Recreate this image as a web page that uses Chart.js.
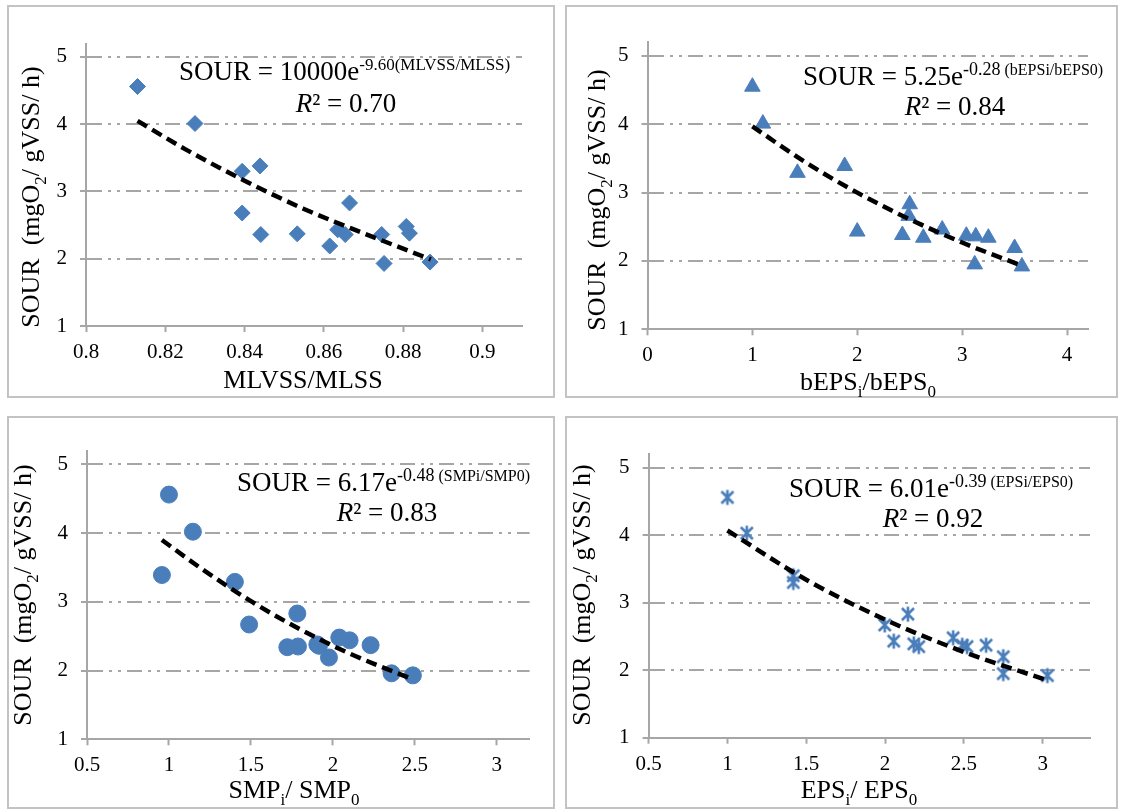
<!DOCTYPE html>
<html lang="en">
<head>
<meta charset="UTF-8">
<title>SOUR vs sludge ratios</title>
<style>
  body { margin: 0; width: 1121px; height: 810px; background: #fff; position: relative; overflow: hidden; }
  .panel { position: absolute; box-sizing: border-box; border: 2px solid #c3c3c3; }
  .panel canvas { position: absolute; left: -2px; top: -2px; }
</style>
</head>
<body>
<div class="panel" style="left:7px;top:5px;width:548px;height:393px"><canvas id="c1" width="548" height="393"></canvas></div>
<div class="panel" style="left:565px;top:5px;width:553px;height:393px"><canvas id="c2" width="553" height="393"></canvas></div>
<div class="panel" style="left:7px;top:416px;width:548px;height:393px"><canvas id="c3" width="548" height="393"></canvas></div>
<div class="panel" style="left:565px;top:416px;width:553px;height:393px"><canvas id="c4" width="553" height="393"></canvas></div>

<script src="https://cdn.jsdelivr.net/npm/chart.js"></script>
<script>
// --- data ---
const mlvssRatio = [0.813, 0.8275, 0.8394, 0.8439, 0.8394, 0.8441, 0.8533, 0.8615, 0.8635, 0.8654, 0.8665, 0.8746, 0.8752, 0.8808, 0.8816, 0.8868];
const sourMlvss  = [4.56, 4.01, 3.30, 3.38, 2.68, 2.36, 2.37, 2.19, 2.43, 2.36, 2.83, 2.36, 1.93, 2.48, 2.38, 1.95];
const mlvssFitX  = [0.813, 0.825, 0.84, 0.855, 0.87, 0.887];
const mlvssFitY  = [4.05, 3.63, 3.16, 2.74, 2.38, 1.99];

const bepsRatio  = [1.0, 1.1, 1.43, 1.88, 2.0, 2.43, 2.5, 2.49, 2.63, 2.81, 3.04, 3.13, 3.25, 3.12, 3.5, 3.57];
const sourBeps   = [4.55, 4.01, 3.29, 3.39, 2.43, 2.38, 2.83, 2.66, 2.34, 2.46, 2.37, 2.36, 2.34, 1.95, 2.19, 1.92];
const bepsFitX   = [1.0, 1.5, 2.0, 2.5, 3.0, 3.57];
const bepsFitY   = [3.97, 3.45, 3.0, 2.61, 2.27, 1.93];

const smpRatio   = [1.0, 1.146, 0.957, 1.402, 1.489, 1.783, 1.722, 1.787, 1.905, 1.915, 1.976, 2.039, 2.102, 2.23, 2.358, 2.488];
const sourSmp    = [4.56, 4.02, 3.39, 3.29, 2.67, 2.83, 2.34, 2.35, 2.38, 2.36, 2.19, 2.48, 2.44, 2.37, 1.96, 1.93];
const smpFitX    = [0.957, 1.2, 1.5, 1.8, 2.1, 2.489];
const smpFitY    = [3.90, 3.48, 3.01, 2.60, 2.25, 1.87];

const epsRatio   = [1.0, 1.123, 1.418, 1.418, 1.998, 2.055, 2.145, 2.182, 2.214, 2.432, 2.49, 2.52, 2.641, 2.75, 2.75, 3.03];
const sourEps    = [4.56, 4.03, 3.40, 3.30, 2.67, 2.43, 2.83, 2.39, 2.35, 2.48, 2.37, 2.35, 2.37, 2.20, 1.95, 1.92];
const epsFitX    = [1.0, 1.5, 2.0, 2.5, 3.03];
const epsFitY    = [4.07, 3.34, 2.75, 2.27, 1.85];

const sourTicks  = [1, 2, 3, 4, 5];

const BLUE = '#4a7ebb';
const GRID = '#a6a6a6';
const SERIF = '"Liberation Serif", "Times New Roman", serif';

Chart.defaults.font.family = SERIF;

// excel style asterisk marker
function starMarker() {
  const c = document.createElement('canvas');
  c.width = 18; c.height = 18;
  const g = c.getContext('2d');
  g.strokeStyle = BLUE;
  g.lineWidth = 2.6;
  g.beginPath();
  g.moveTo(3, 3); g.lineTo(15, 15);
  g.moveTo(15, 3); g.lineTo(3, 15);
  g.moveTo(9, 1.5); g.lineTo(9, 16.5);
  g.stroke();
  return c;
}

function fontOf(r) {
  return (r[3] ? 'italic ' : '') + (r[1] || 27) + 'px ' + SERIF;
}

// draw text runs (for sub/superscripts) starting at x, or centred on x
function drawRuns(ctx, runs, x, y, center) {
  const widths = runs.map(r => { ctx.font = fontOf(r); return ctx.measureText(r[0]).width; });
  const total = widths.reduce((a, b) => a + b, 0);
  let cx = center ? x - total / 2 : x;
  runs.forEach((r, i) => {
    ctx.font = fontOf(r);
    ctx.fillText(r[0], cx, y + (r[2] || 0));
    cx += widths[i];
  });
}

const yTitleRuns = [['SOUR  (mgO', 26], ['2', 17, 7], ['/ gVSS/ h)', 26]];

const panels = [
  {
    id: 'c1', W: 548, H: 393, area: { l: 79, r: 515, t: 38.5, b: 321 },
    xMin: 0.8, xMax: 0.91, xStep: 0.02,
    xs: mlvssRatio, ys: sourMlvss, fx: mlvssFitX, fy: mlvssFitY,
    marker: 'rectRot', radius: 8,
    xTitle: { runs: [['MLVSS/MLSS', 26]], x: 296, y: 383 },
    yTitle: { x: 32, y: 192 },
    eq: { x: 172, y: 75, runs: [['SOUR = 10000e'], ['-9.60(MLVSS/MLSS)', 17, -10]] },
    r2: { x: 339, y: 107, value: '0.70' }
  },
  {
    id: 'c2', W: 553, H: 393, area: { l: 82.5, r: 523, t: 37.3, b: 324.3 },
    xMin: 0, xMax: 4.2, xStep: 1,
    xs: bepsRatio, ys: sourBeps, fx: bepsFitX, fy: bepsFitY,
    marker: 'triangle', radius: 9,
    xTitle: { runs: [['bEPS', 26], ['i', 17, 7], ['/bEPS', 26], ['0', 17, 7]], x: 303, y: 385 },
    yTitle: { x: 40, y: 195 },
    eq: { x: 238, y: 80, runs: [['SOUR = 5.25e'], ['-0.28', 18, -10], [' (bEPSi/bEPS0)', 16, -10]] },
    r2: { x: 390, y: 110, value: '0.84' }
  },
  {
    id: 'c3', W: 548, H: 393, area: { l: 80, r: 522.6, t: 34.6, b: 323.3 },
    xMin: 0.5, xMax: 3.2, xStep: 0.5,
    xs: smpRatio, ys: sourSmp, fx: smpFitX, fy: smpFitY,
    marker: 'circle', radius: 8.5,
    xTitle: { runs: [['SMP', 26], ['i', 17, 7], ['/ SMP', 26], ['0', 17, 7]], x: 287, y: 382 },
    yTitle: { x: 24, y: 179 },
    eq: { x: 230, y: 75, runs: [['SOUR = 6.17e'], ['-0.48', 18, -10], [' (SMPi/SMP0)', 16, -10]] },
    r2: { x: 380, y: 105, value: '0.83' }
  },
  {
    id: 'c4', W: 553, H: 393, area: { l: 83.6, r: 525, t: 38.2, b: 321.7 },
    xMin: 0.5, xMax: 3.3, xStep: 0.5,
    xs: epsRatio, ys: sourEps, fx: epsFitX, fy: epsFitY,
    marker: starMarker(), radius: 9,
    xTitle: { runs: [['EPS', 26], ['i', 17, 7], ['/ EPS', 26], ['0', 17, 7]], x: 294, y: 382 },
    yTitle: { x: 25, y: 179 },
    eq: { x: 224, y: 81, runs: [['SOUR = 6.01e'], ['-0.39', 18, -10], [' (EPSi/EPS0)', 16, -10]] },
    r2: { x: 368, y: 111, value: '0.92' }
  }
];

function fmt(v) {
  return String(Math.round(v * 100) / 100);
}

panels.forEach(p => {
  const textPlugin = {
    id: 'texts',
    afterDraw(chart) {
      const ctx = chart.ctx;
      ctx.save();
      ctx.fillStyle = '#000';
      ctx.textBaseline = 'alphabetic';
      ctx.textAlign = 'left';
      drawRuns(ctx, p.eq.runs, p.eq.x, p.eq.y, false);
      drawRuns(ctx, [['R', 27, 0, true], ['\u00b2 = ' + p.r2.value]], p.r2.x, p.r2.y, true);
      drawRuns(ctx, p.xTitle.runs, p.xTitle.x, p.xTitle.y, true);
      ctx.translate(p.yTitle.x, p.yTitle.y);
      ctx.rotate(-Math.PI / 2);
      drawRuns(ctx, yTitleRuns, 0, 0, true);
      ctx.restore();
    }
  };

  new Chart(document.getElementById(p.id), {
    type: 'scatter',
    data: {
      datasets: [
        {
          data: p.fx.map((x, i) => ({ x: x, y: p.fy[i] })),
          showLine: true,
          borderColor: '#000',
          borderWidth: 4.5,
          borderDash: [11, 6],
          pointRadius: 0,
          cubicInterpolationMode: 'monotone',
          order: 0
        },
        {
          data: p.xs.map((x, i) => ({ x: x, y: p.ys[i] })),
          pointStyle: p.marker,
          pointRadius: p.radius,
          backgroundColor: BLUE,
          borderColor: BLUE,
          borderWidth: 1,
          order: 1
        }
      ]
    },
    options: {
      responsive: false,
      animation: false,
      devicePixelRatio: 1,
      layout: { padding: { left: 0, top: p.area.t, right: p.W - p.area.r, bottom: 0 } },
      plugins: { legend: { display: false }, tooltip: { enabled: false } },
      scales: {
        x: {
          type: 'linear',
          min: p.xMin,
          max: p.xMax,
          afterFit: s => { s.height = p.H - p.area.b; },
          ticks: {
            stepSize: p.xStep,
            includeBounds: false,
            autoSkip: false,
            maxRotation: 0,
            padding: 8,
            color: '#000',
            font: { family: SERIF, size: 21 },
            callback: v => fmt(v)
          },
          grid: { drawOnChartArea: false, drawTicks: true, tickLength: 6, tickColor: GRID, tickWidth: 2 },
          border: { color: GRID, width: 2 }
        },
        y: {
          min: 1,
          max: 5.2,
          afterFit: s => { s.width = p.area.l; },
          afterBuildTicks: s => { s.ticks = sourTicks.map(v => ({ value: v })); },
          ticks: {
            padding: 13,
            color: '#000',
            font: { family: SERIF, size: 21 },
            callback: v => fmt(v)
          },
          grid: {
            color: c => (c.tick && c.tick.value === 1) ? 'rgba(0,0,0,0)' : GRID,
            lineWidth: 2,
            tickBorderDash: [],
            tickColor: GRID,
            tickLength: 6,
            tickWidth: 2
          },
          border: { color: GRID, width: 2, dash: [15, 6, 3, 6, 3, 6] }
        }
      }
    },
    plugins: [textPlugin]
  });
});
</script>
</body>
</html>
